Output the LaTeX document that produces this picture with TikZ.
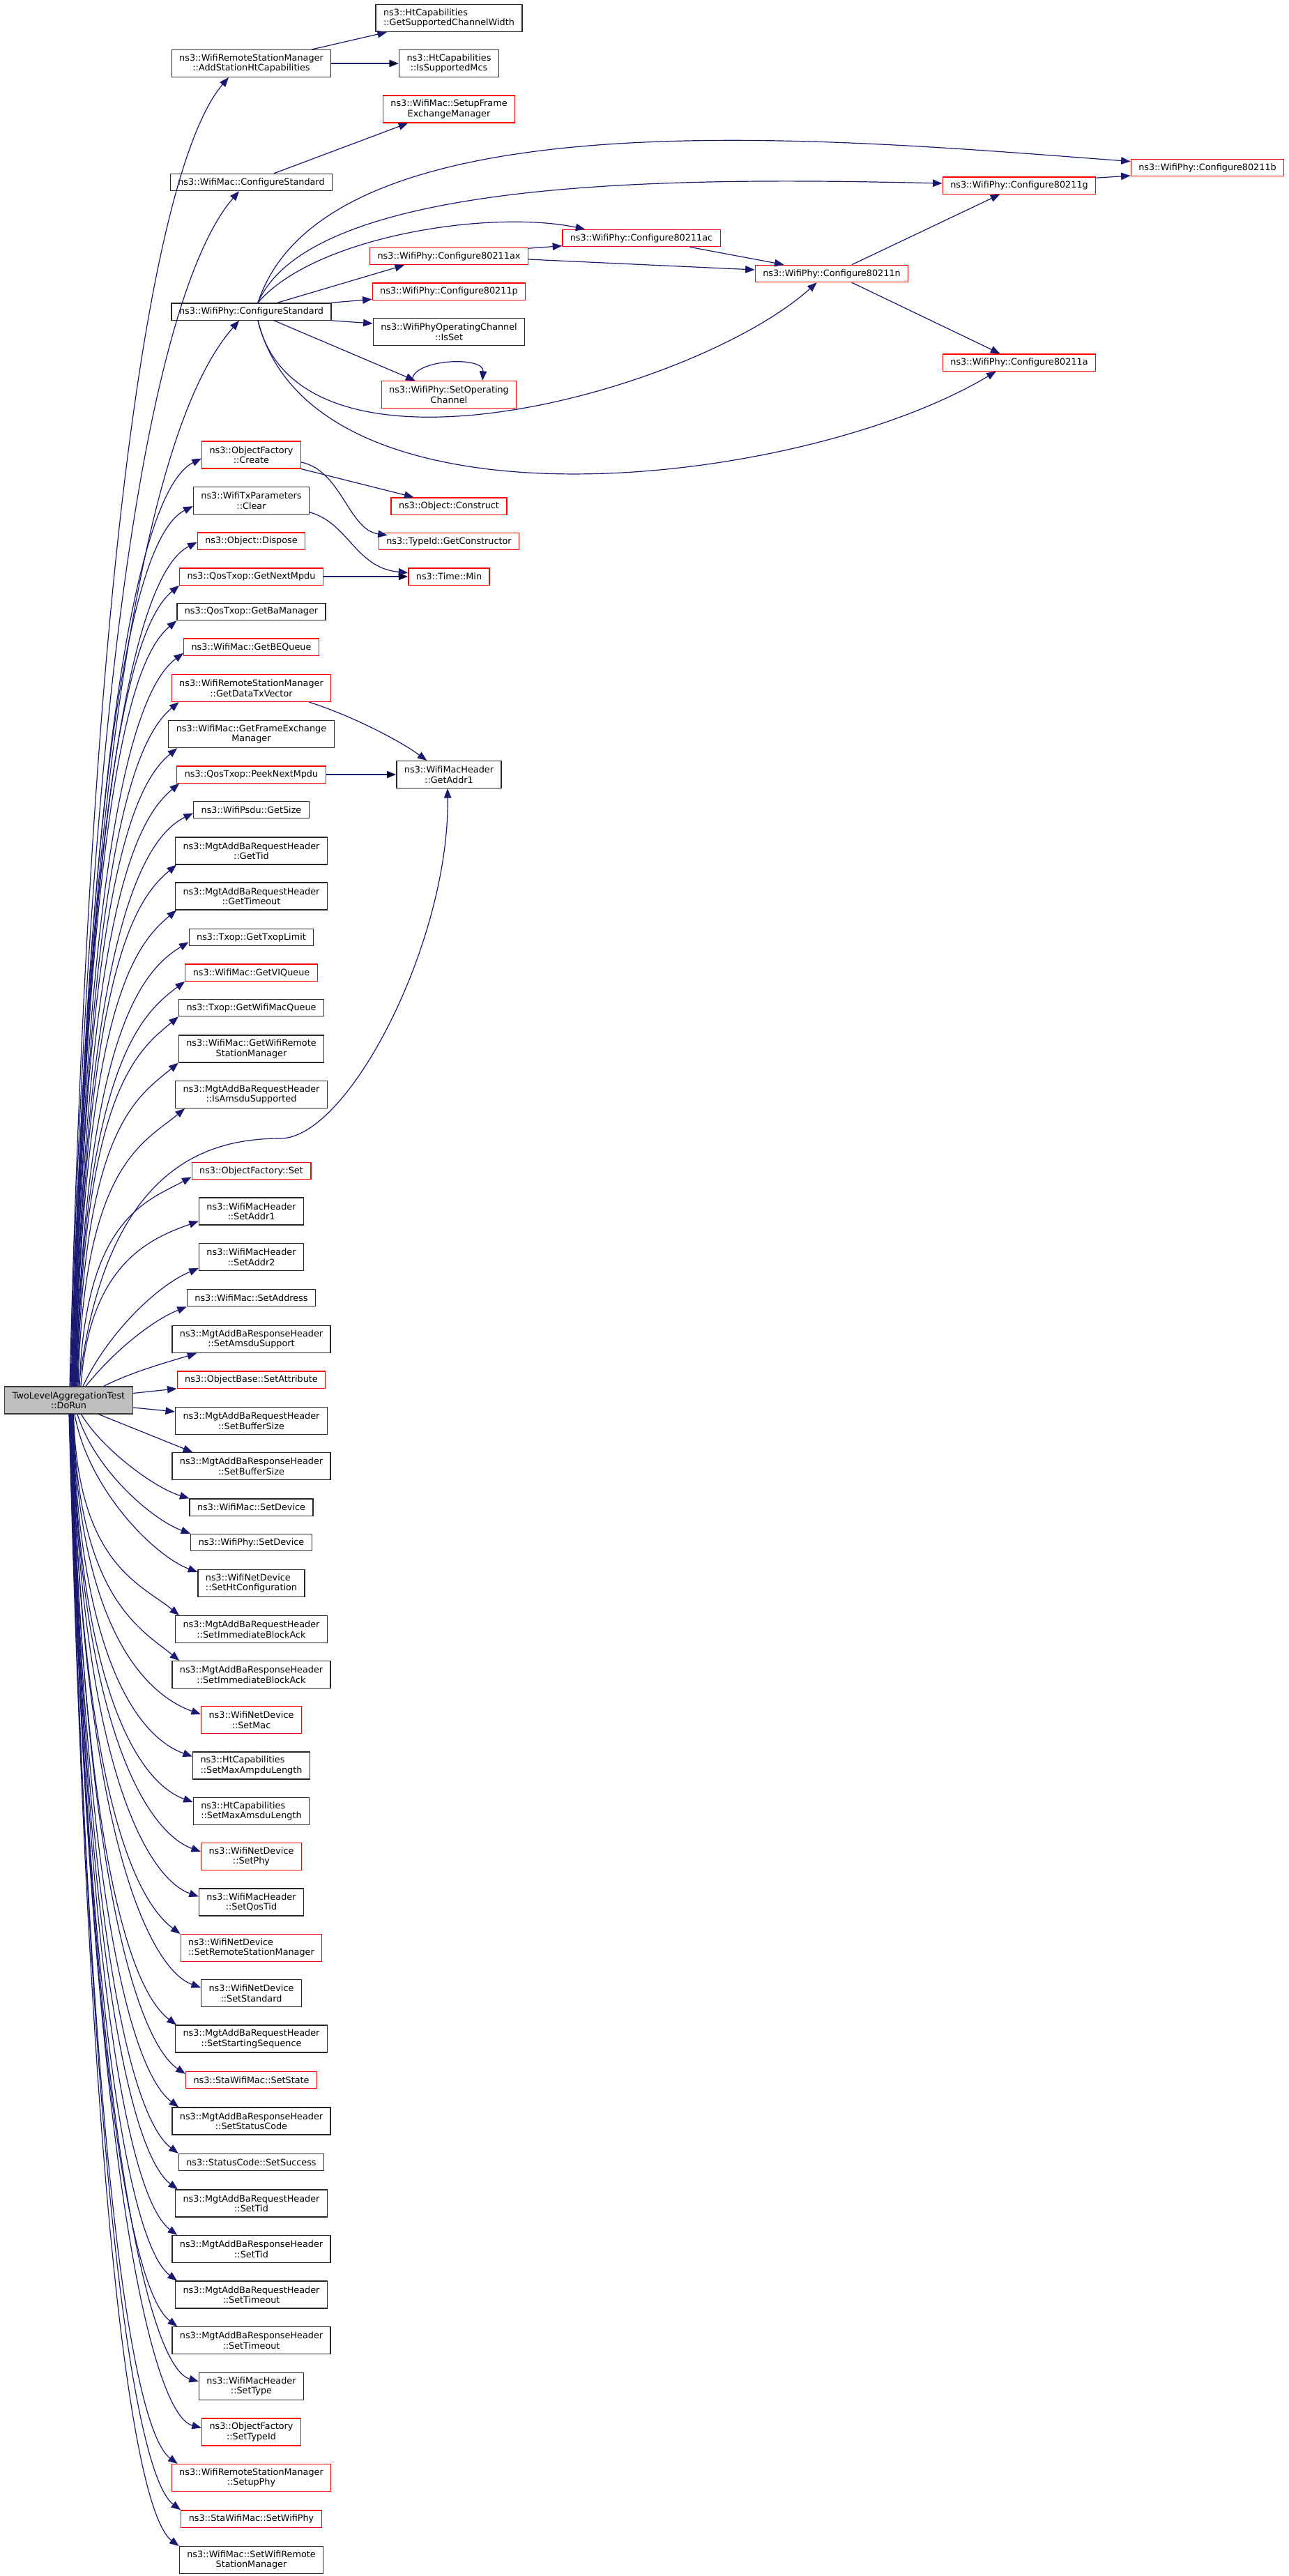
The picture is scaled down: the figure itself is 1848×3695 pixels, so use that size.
\documentclass[tikz,border=0pt]{standalone}
\usepackage{fontspec}
\setmainfont{DejaVu Sans}
\usetikzlibrary{arrows.meta,positioning}
\definecolor{edgeblue}{RGB}{25,25,112}
\definecolor{boxgray}{RGB}{40,40,40}
\definecolor{rootgray}{RGB}{191,191,191}

\begin{document}
\begin{tikzpicture}[x=1pt,y=-1pt]
\tikzstyle{func}=[rectangle, draw=boxgray, line width=1.3pt, inner xsep=11pt, inner ysep=2pt,
	minimum height=24.3pt, align=center, font=\fontsize{12.8}{14.5}\selectfont
]
\tikzstyle{trunc}=[func, draw=red]
\tikzstyle{twoline}=[minimum height=38.9pt]
\tikzstyle{caller}=[func, fill=rootgray, draw=boxgray!80!gray]
\tikzstyle{call}=[draw=edgeblue, line width=1.2pt, -{Triangle[length=13.5pt,width=10.5pt]}]
\useasboundingbox (0,0) rectangle (1848,3695);

\node[caller,twoline] (dorun) at (98.5,2008.5) {TwoLevelAggregationTest\\::DoRun};

\node[func,twoline] (addht) at (360.5,91) {ns3::WifiRemoteStationManager\\::AddStationHtCapabilities};
\node[func] (maccfg) at (360.5,261.5) {ns3::WifiMac::ConfigureStandard};
\node[func] (phycfg) at (360.5,447) {ns3::WifiPhy::ConfigureStandard};
\node[trunc,twoline] (create) at (360.5,652.5) {ns3::ObjectFactory\\::Create};
\node[func,twoline] (clear) at (360.5,718) {ns3::WifiTxParameters\\::Clear};
\node[trunc] (dispose) at (360.5,776) {ns3::Object::Dispose};
\node[trunc] (nextmpdu) at (360.5,827) {ns3::QosTxop::GetNextMpdu};
\node[func] (bamgr) at (360.5,877.5) {ns3::QosTxop::GetBaManager};
\node[trunc] (bequeue) at (360.5,928) {ns3::WifiMac::GetBEQueue};
\node[trunc,twoline] (datatx) at (360.5,987) {ns3::WifiRemoteStationManager\\::GetDataTxVector};
\node[func,twoline] (fem) at (360.5,1053) {ns3::WifiMac::GetFrameExchange\\Manager};
\node[trunc] (peek) at (360.5,1111) {ns3::QosTxop::PeekNextMpdu};
\node[func] (psize) at (360.5,1161.5) {ns3::WifiPsdu::GetSize};
\node[func,twoline] (gettid) at (360.5,1220.5) {ns3::MgtAddBaRequestHeader\\::GetTid};
\node[func,twoline] (gettimeout) at (360.5,1285.5) {ns3::MgtAddBaRequestHeader\\::GetTimeout};
\node[func] (txoplimit) at (360.5,1344.5) {ns3::Txop::GetTxopLimit};
\node[trunc] (viqueue) at (360.5,1395) {ns3::WifiMac::GetVIQueue};
\node[func] (macqueue) at (360.5,1445.5) {ns3::Txop::GetWifiMacQueue};
\node[func,twoline] (getrsm) at (360.5,1504.5) {ns3::WifiMac::GetWifiRemote\\StationManager};
\node[func,twoline] (isamsdu) at (360.5,1570) {ns3::MgtAddBaRequestHeader\\::IsAmsduSupported};
\node[trunc] (ofset) at (360.5,1679.5) {ns3::ObjectFactory::Set};
\node[func,twoline] (addr1) at (360.5,1737.5) {ns3::WifiMacHeader\\::SetAddr1};
\node[func,twoline] (addr2) at (360.5,1803) {ns3::WifiMacHeader\\::SetAddr2};
\node[func] (setaddr) at (360.5,1861.5) {ns3::WifiMac::SetAddress};
\node[func,twoline] (amsdusup) at (360.5,1921) {ns3::MgtAddBaResponseHeader\\::SetAmsduSupport};
\node[trunc] (setattr) at (360.5,1979) {ns3::ObjectBase::SetAttribute};
\node[func,twoline] (reqbuf) at (360.5,2038) {ns3::MgtAddBaRequestHeader\\::SetBufferSize};
\node[func,twoline] (respbuf) at (360.5,2103) {ns3::MgtAddBaResponseHeader\\::SetBufferSize};
\node[func] (macdev) at (360.5,2162) {ns3::WifiMac::SetDevice};
\node[func] (phydev) at (360.5,2212.5) {ns3::WifiPhy::SetDevice};
\node[func,twoline,align=left] (htconf) at (360.5,2271) {ns3::WifiNetDevice\\::SetHtConfiguration};
\node[func,twoline] (reqimm) at (360.5,2337) {ns3::MgtAddBaRequestHeader\\::SetImmediateBlockAck};
\node[func,twoline] (respimm) at (360.5,2402) {ns3::MgtAddBaResponseHeader\\::SetImmediateBlockAck};
\node[trunc,twoline] (setmac) at (360.5,2467) {ns3::WifiNetDevice\\::SetMac};
\node[func,twoline,align=left] (ampdu) at (360.5,2532.5) {ns3::HtCapabilities\\::SetMaxAmpduLength};
\node[func,twoline,align=left] (amsdulen) at (360.5,2598) {ns3::HtCapabilities\\::SetMaxAmsduLength};
\node[trunc,twoline] (setphy) at (360.5,2663) {ns3::WifiNetDevice\\::SetPhy};
\node[func,twoline] (qostid) at (360.5,2728.5) {ns3::WifiMacHeader\\::SetQosTid};
\node[trunc,twoline,align=left] (setrsm) at (360.5,2794) {ns3::WifiNetDevice\\::SetRemoteStationManager};
\node[func,twoline] (setstd) at (360.5,2859) {ns3::WifiNetDevice\\::SetStandard};
\node[func,twoline] (startseq) at (360.5,2924.5) {ns3::MgtAddBaRequestHeader\\::SetStartingSequence};
\node[trunc] (setstate) at (360.5,2983.5) {ns3::StaWifiMac::SetState};
\node[func,twoline] (statcode) at (360.5,3042.5) {ns3::MgtAddBaResponseHeader\\::SetStatusCode};
\node[func] (success) at (360.5,3101.5) {ns3::StatusCode::SetSuccess};
\node[func,twoline] (reqtid) at (360.5,3160.5) {ns3::MgtAddBaRequestHeader\\::SetTid};
\node[func,twoline] (resptid) at (360.5,3226) {ns3::MgtAddBaResponseHeader\\::SetTid};
\node[func,twoline] (reqto) at (360.5,3291.5) {ns3::MgtAddBaRequestHeader\\::SetTimeout};
\node[func,twoline] (respto) at (360.5,3357) {ns3::MgtAddBaResponseHeader\\::SetTimeout};
\node[func,twoline] (settype) at (360.5,3423) {ns3::WifiMacHeader\\::SetType};
\node[trunc,twoline] (typeid) at (360.5,3488.5) {ns3::ObjectFactory\\::SetTypeId};
\node[trunc,twoline] (setupphy) at (360.5,3554) {ns3::WifiRemoteStationManager\\::SetupPhy};
\node[trunc] (wifiphy) at (360.5,3613) {ns3::StaWifiMac::SetWifiPhy};
\node[func,twoline] (macrsm) at (360.5,3672) {ns3::WifiMac::SetWifiRemote\\StationManager};

\node[func,twoline,align=left] (chanwidth) at (644,26) {ns3::HtCapabilities\\::GetSupportedChannelWidth};
\node[func,twoline] (suppmcs) at (644,91) {ns3::HtCapabilities\\::IsSupportedMcs};
\node[trunc,twoline] (setupfem) at (644,156.5) {ns3::WifiMac::SetupFrame\\ExchangeManager};
\node[trunc] (phyax) at (644,367.5) {ns3::WifiPhy::Configure80211ax};
\node[trunc] (phyp) at (644,418) {ns3::WifiPhy::Configure80211p};
\node[func,twoline] (isset) at (644,476) {ns3::WifiPhyOperatingChannel\\::IsSet};
\node[trunc,twoline] (setop) at (644,566) {ns3::WifiPhy::SetOperating\\Channel};
\node[trunc] (construct) at (644,726) {ns3::Object::Construct};
\node[trunc] (getctor) at (644,776.5) {ns3::TypeId::GetConstructor};
\node[trunc] (tmin) at (644,827) {ns3::Time::Min};
\node[func,twoline] (getaddr1) at (644,1111) {ns3::WifiMacHeader\\::GetAddr1};
\node[trunc] (phyac) at (920,341.5) {ns3::WifiPhy::Configure80211ac};
\node[trunc] (phyn) at (1193,392.5) {ns3::WifiPhy::Configure80211n};
\node[trunc] (phyg) at (1462,266) {ns3::WifiPhy::Configure80211g};
\node[trunc] (phya) at (1462,520) {ns3::WifiPhy::Configure80211a};
\node[trunc] (phyb) at (1732,240.5) {ns3::WifiPhy::Configure80211b};

\draw[call] ([xshift=1.5pt]dorun.north) .. controls +(38,-1502) and +(-65,75) .. ([xshift=-32.5pt]addht.south);
\draw[call] ([xshift=2.5pt]dorun.north) .. controls +(34,-1371) and +(-65,75) .. ([xshift=-17.5pt]maccfg.south);
\draw[call] ([xshift=3.5pt]dorun.north) .. controls +(31,-1222) and +(-65,75) .. ([xshift=-17.5pt]phycfg.south);
\draw[call] ([xshift=4.5pt]dorun.north) .. controls +(27,-1065) and +(-70,35) .. ([yshift=15pt]create.south west);
\draw[call] ([xshift=4.5pt]dorun.north) .. controls +(25,-1010) and +(-70,35) .. ([yshift=12pt]clear.south west);
\draw[call] ([xshift=5.5pt]dorun.north) .. controls +(24,-968) and +(-70,35) .. ([yshift=11pt]dispose.south west);
\draw[call] ([xshift=5.5pt]dorun.north) .. controls +(23,-918) and +(-60,50) .. (nextmpdu.south west);
\draw[call] ([xshift=6.5pt]dorun.north) .. controls +(22,-878) and +(-60,50) .. (bamgr.south west);
\draw[call] ([xshift=6.5pt]dorun.north) .. controls +(21,-841) and +(-60,45) .. ([yshift=4pt]bequeue.south west);
\draw[call] ([xshift=7.5pt]dorun.north) .. controls +(20,-785) and +(-60,50) .. ([xshift=11pt]datatx.south west);
\draw[call] ([xshift=7.5pt]dorun.north) .. controls +(18,-732) and +(-60,50) .. ([xshift=13pt]fem.south west);
\draw[call] ([xshift=8.5pt]dorun.north) .. controls +(17,-691) and +(-60,50) .. ([xshift=4pt]peek.south west);
\draw[call] ([xshift=8.5pt]dorun.north) .. controls +(16,-658) and +(-70,35) .. ([yshift=8pt]psize.south west);
\draw[call] ([xshift=9.5pt]dorun.north) .. controls +(15,-598) and +(-60,50) .. ([xshift=2pt]gettid.south west);
\draw[call] ([xshift=9.5pt]dorun.north) .. controls +(14,-546) and +(-60,50) .. ([xshift=2pt]gettimeout.south west);
\draw[call] ([xshift=10.5pt]dorun.north) .. controls +(13,-510) and +(-65,40) .. ([yshift=6pt]txoplimit.south west);
\draw[call] ([xshift=10.5pt]dorun.north) .. controls +(12,-465) and +(-60,45) .. (viqueue.south west);
\draw[call] ([xshift=11.5pt]dorun.north) .. controls +(11,-424) and +(-60,50) .. (macqueue.south west);
\draw[call] ([xshift=12.5pt]dorun.north) .. controls +(9,-371) and +(-60,50) .. (getrsm.south west);
\draw[call] ([xshift=13.5pt]dorun.north) .. controls +(8,-318) and +(-60,50) .. ([xshift=14pt]isamsdu.south west);
\draw[call] ([xshift=14.5pt]dorun.north) .. controls (150,1680) and (290,1633) .. (402,1633) .. controls (500,1633) and (645,1350) .. ([xshift=-2pt]getaddr1.south);
\draw[call] ([xshift=15.5pt]dorun.north) .. controls +(8,-240) and +(-65,35) .. ([yshift=4pt]ofset.south west);
\draw[call] ([xshift=17.5pt]dorun.north) .. controls +(12,-175) and +(-70,25) .. ([yshift=6pt]addr1.south west);
\draw[call] ([xshift=20.5pt]dorun.north) .. controls +(35,-75) and +(-60,25) .. ([yshift=4pt]addr2.south west);
\draw[call] ([xshift=24.5pt]dorun.north) .. controls +(40,-50) and +(-50,20) .. (setaddr.south west);
\draw[call] ([xshift=50pt]dorun.north) .. controls +(40,-20) and +(-50,15) .. ([xshift=36pt]amsdusup.south west);
\draw[call] ([yshift=10pt]dorun.east) -- (setattr.south west);
\draw[call] ([yshift=-10.5pt]dorun.east) -- ([yshift=-7pt]reqbuf.north west);
\draw[call] ([xshift=43pt]dorun.south) -- ([xshift=30pt]respbuf.north west);
\draw[call] ([xshift=18pt]dorun.south) .. controls +(30,50) and +(-50,-15) .. (macdev.north west);
\draw[call] ([xshift=12.5pt]dorun.south) .. controls +(25,80) and +(-55,-20) .. (phydev.north west);
\draw[call] ([xshift=8.5pt]dorun.south) .. controls +(20,110) and +(-60,-22) .. ([yshift=-4pt]htconf.north west);
\draw[call] ([xshift=7pt]dorun.south) .. controls +(6,215) and +(-55,-45) .. ([xshift=6pt]reqimm.north west);
\draw[call] ([xshift=6.5pt]dorun.south) .. controls +(7,264) and +(-55,-45) .. ([xshift=11pt]respimm.north west);
\draw[call] ([xshift=6pt]dorun.south) .. controls +(9,323) and +(-70,-25) .. ([yshift=-12pt]setmac.north west);
\draw[call] ([xshift=5.5pt]dorun.south) .. controls +(10,368) and +(-70,-25) .. ([yshift=-7pt]ampdu.north west);
\draw[call] ([xshift=5pt]dorun.south) .. controls +(11,417) and +(-70,-25) .. ([yshift=-7pt]amsdulen.north west);
\draw[call] ([xshift=4.5pt]dorun.south) .. controls +(13,470) and +(-70,-25) .. ([yshift=-13pt]setphy.north west);
\draw[call] ([xshift=4.5pt]dorun.south) .. controls +(14,518) and +(-70,-25) .. ([yshift=-12pt]qostid.north west);
\draw[call] ([xshift=4pt]dorun.south) .. controls +(15,559) and +(-60,-45) .. (setrsm.north west);
\draw[call] ([xshift=4pt]dorun.south) .. controls +(16,617) and +(-70,-25) .. ([yshift=-12pt]setstd.north west);
\draw[call] ([xshift=3.5pt]dorun.south) .. controls +(17,656) and +(-60,-45) .. ([xshift=2pt]startseq.north west);
\draw[call] ([xshift=3.5pt]dorun.south) .. controls +(19,709) and +(-60,-40) .. ([yshift=-4pt]setstate.north west);
\draw[call] ([xshift=3pt]dorun.south) .. controls +(20,745) and +(-60,-45) .. ([xshift=10pt]statcode.north west);
\draw[call] ([xshift=3pt]dorun.south) .. controls +(21,795) and +(-60,-45) .. (success.north west);
\draw[call] ([xshift=2.5pt]dorun.south) .. controls +(22,833) and +(-60,-45) .. ([xshift=4pt]reqtid.north west);
\draw[call] ([xshift=2.5pt]dorun.south) .. controls +(24,884) and +(-60,-45) .. ([xshift=8pt]resptid.north west);
\draw[call] ([xshift=2pt]dorun.south) .. controls +(25,932) and +(-60,-45) .. ([xshift=3pt]reqto.north west);
\draw[call] ([xshift=2pt]dorun.south) .. controls +(26,981) and +(-60,-45) .. ([xshift=8pt]respto.north west);
\draw[call] ([xshift=1.5pt]dorun.south) .. controls +(28,1040) and +(-70,-20) .. ([yshift=-13pt]settype.north west);
\draw[call] ([xshift=1.5pt]dorun.south) .. controls +(29,1090) and +(-70,-18) .. ([yshift=-14pt]typeid.north west);
\draw[call] ([xshift=1pt]dorun.south) .. controls +(30,1129) and +(-60,-45) .. ([xshift=9pt]setupphy.north west);
\draw[call] ([xshift=1pt]dorun.south) .. controls +(31,1180) and +(-60,-45) .. (wifiphy.north west);
\draw[call] ([xshift=0.5pt]dorun.south) .. controls +(32,1217) and +(-60,-45) .. (macrsm.north west);

\path[call] (addht) edge (suppmcs);
\draw[call] ([xshift=-28pt]addht.north east) -- ([xshift=16.5pt]chanwidth.south west);
\draw[call] ([xshift=32.5pt]maccfg.north) -- ([xshift=36.5pt]setupfem.south west);
\draw[call] ([xshift=9.5pt]phycfg.north) .. controls (470,130) and (1200,200) .. ([yshift=9pt]phyb.west);
\draw[call] ([xshift=9.5pt]phycfg.north) .. controls (450,250) and (1000,255) .. ([yshift=3pt]phyg.west);
\draw[call] ([xshift=9.5pt]phycfg.north) .. controls (450,340) and (700,300) .. ([xshift=33pt]phyac.north west);
\draw[call] ([xshift=37.5pt]phycfg.north) -- ([xshift=50pt]phyax.south west);
\draw[call] (phycfg.north east) -- ([yshift=1.5pt]phyp.south west);
\draw[call] (phycfg.south east) -- ([yshift=12pt]isset.west);
\draw[call] ([xshift=32.5pt]phycfg.south) -- ([xshift=49pt]setop.north west);
\draw[call] ([xshift=9.5pt]phycfg.south) .. controls (430,720) and (1000,560) .. ([xshift=89pt]phyn.south west);
\draw[call] ([xshift=9.5pt]phycfg.south) .. controls (450,780) and (1150,700) .. ([xshift=77pt]phya.south west);
\draw[call] ([xshift=45pt]setop.north west) .. controls (590,515) and (695,510) .. ([xshift=145.5pt]setop.north west);
\draw[call] ([yshift=-1.5pt]phyax.north east) -- ([yshift=1.6pt]phyac.south west);
\draw[call] ([yshift=-4.5pt]phyax.east) -- ([yshift=5.5pt]phyn.west);
\draw[call] ([xshift=-44.5pt]phyac.south east) -- ([xshift=42pt]phyn.north west);
\draw[call] ([xshift=-81.5pt]phyn.north east) -- ([xshift=82.7pt]phyg.south west);
\draw[call] ([xshift=-81.5pt]phyn.south east) -- ([xshift=82.7pt]phya.north west);
\draw[call] ([yshift=-2pt]phyg.north east) -- ([yshift=1.3pt]phyb.south west);
\draw[call] (create.south east) -- ([xshift=33pt]construct.north west);
\draw[call] ([yshift=-10.5pt]create.east) .. controls (490,675) and (500,760) .. ([xshift=13pt,yshift=-4pt]getctor.north west);
\draw[call] ([yshift=3.3pt]clear.south east) .. controls (500,750) and (510,815) .. ([yshift=5.5pt]tmin.west);
\path[call] (nextmpdu) edge (tmin);
\draw[call] ([xshift=-32pt]datatx.south east) .. controls (500,1025) and (570,1060) .. ([xshift=44pt]getaddr1.north west);
\path[call] (peek) edge (getaddr1);

\end{tikzpicture}
\end{document}
